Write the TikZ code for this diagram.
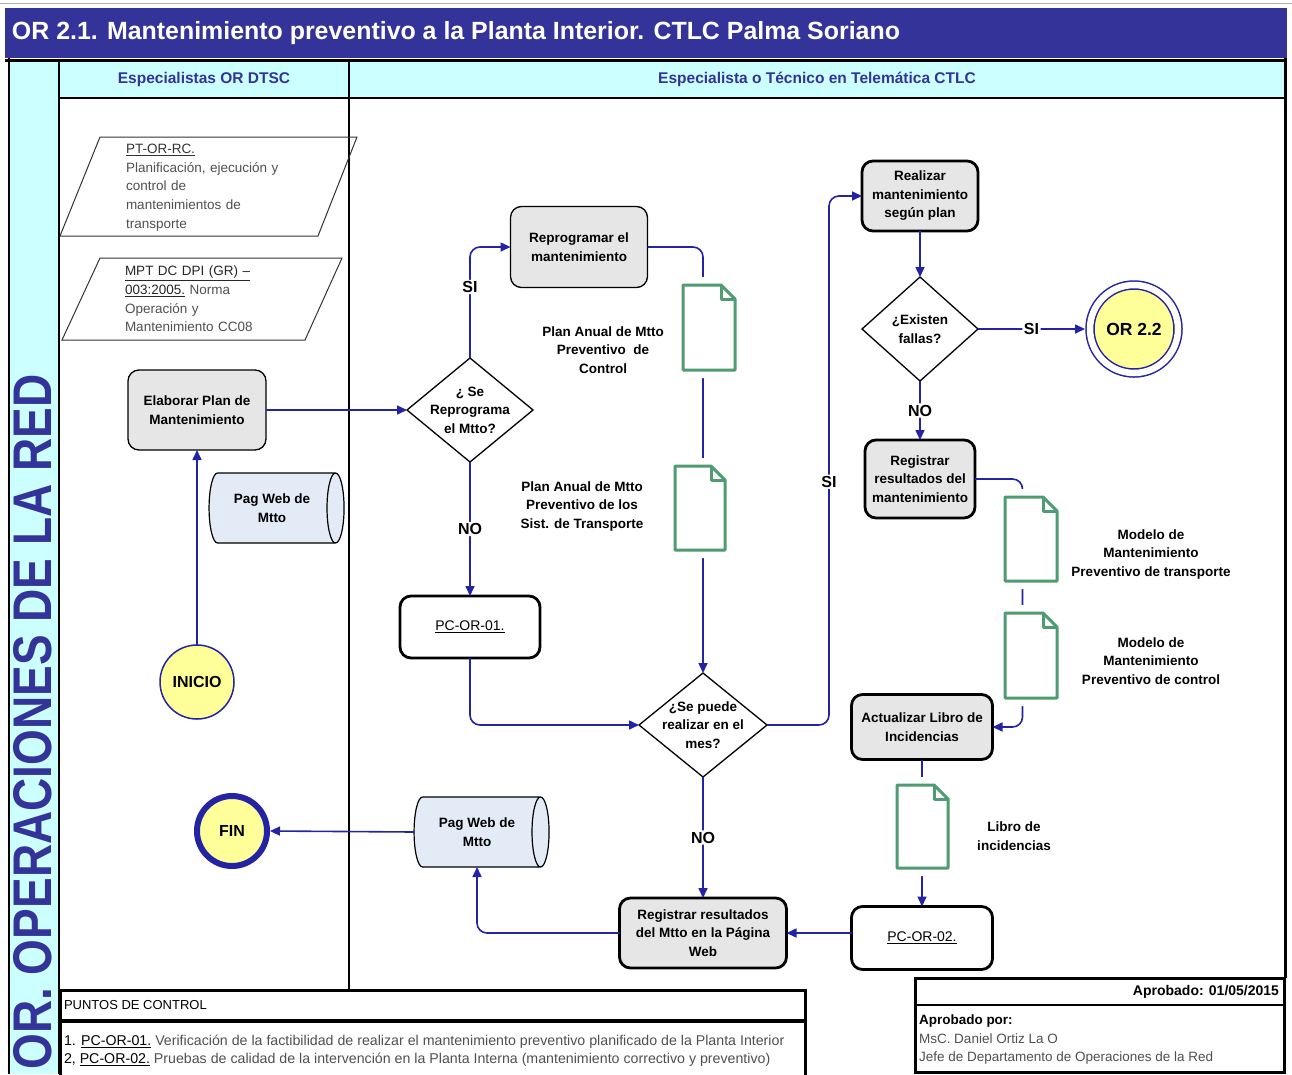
\documentclass[tikz,border=0pt]{standalone}
\usepackage{fontspec}
\setmainfont{Liberation Sans}
\usepackage{graphicx}
\usetikzlibrary{shapes.geometric,arrows.meta,calc}

\definecolor{band}{HTML}{333399}
\definecolor{lane}{HTML}{CCFFFF}
\definecolor{flow}{HTML}{2323A3}
\definecolor{boxgray}{HTML}{E6E6E6}
\definecolor{webfill}{HTML}{E3EBF6}
\definecolor{startfill}{HTML}{FFFF99}
\definecolor{docgreen}{HTML}{4F9B72}
\definecolor{graytext}{HTML}{505050}

\newcommand\fsz[2]{\fontsize{#1}{#2}\selectfont}

\tikzset{
  pics/docsheet/.style args={#1/#2}{code={
    \draw[white, line width=16pt, line join=round]
      (0,0) -- (#1-14,0) -- (#1,14) -- (#1,#2) -- (0,#2) -- cycle;
    \draw[docgreen, line width=3pt, fill=white, line join=round]
      (0,0) -- (#1-14,0) -- (#1,14) -- (#1,#2) -- (0,#2) -- cycle;
    \draw[docgreen, line width=3pt, line join=round]
      (#1-14,0) -- (#1-14,14) -- (#1,14);
  }}
}

\begin{document}
\begin{tikzpicture}[x=1pt,y=-1pt,
  every node/.style={inner sep=0pt, outer sep=0pt},
  boxtxt/.style={font=\bfseries\fsz{13.5}{18.5}, align=center},
  proc/.style={boxtxt, rectangle, rounded corners=11pt, draw=black, fill=boxgray, line width=1.3pt},
  procb/.style={proc, line width=2.8pt},
  ctrl/.style={procb, fill=white, font=\fsz{14}{18}},
  decision/.style={diamond, draw=black, line width=1.3pt, fill=white},
  store/.style={cylinder, shape aspect=0.6, draw=black, line width=1.2pt, fill=webfill, boxtxt,
                minimum width=70pt, minimum height=135pt},
  terminal/.style={circle, draw=flow, fill=startfill, font=\bfseries\fsz{16}{18}},
  flowline/.style={draw=flow, line width=1.6pt, rounded corners=10pt, -{Triangle[length=10pt,width=9pt]}},
  lab/.style={fill=white, font=\bfseries\fsz{16}{18}, inner sep=1.5pt},
  paratxt/.style={align=left, text width=185pt, font=\fsz{13.5}{18.7}, text=graytext},
]
% page
\fill[white] (0,0) rectangle (1292,1074);
\useasboundingbox (0,0) rectangle (1292,1074);
\draw[gray!60, line width=1pt] (0,3) -- (1292,3);

% title band
\fill[band] (5,8) rectangle (1287,58);
\node[anchor=west, text=white] (title) at (12,33)
  {\resizebox{888pt}{!}{\bfseries OR 2.1. Mantenimiento preventivo a la Planta Interior. CTLC Palma Soriano}};

% frame, lane strip and header row
\fill[lane] (10,61) rectangle (58,1074);
\fill[lane] (60,62) rectangle (1284,97);
\draw[line width=3pt] (5,60) -- (1287,60);
\draw[line width=2.5pt] (9,58) -- (9,1074);
\draw[line width=2.5pt] (59,61) -- (59,1074);
\draw[line width=2.5pt] (60,98) -- (1284,98);
\draw[line width=2.5pt] (349,61) -- (349,990);
\draw[line width=3pt] (1285,58) -- (1285,978);

\node[rotate=90, text=band] (lanename) at (33,722)
  {\resizebox{695pt}{38pt}{\bfseries OR. OPERACIONES DE LA RED}};
\node[text=band, font=\bfseries\fsz{15.5}{18}] (hdrA) at (204,79) {Especialistas OR DTSC};
\node[text=band, font=\bfseries\fsz{15.5}{18}] (hdrB) at (817,79) {Especialista o Técnico en Telemática CTLC};

% reference documents (parallelograms)
\draw[line width=1pt, draw=black!80] (100,137) -- (357,137) -- (318,236) -- (60,236) -- cycle;
\node[paratxt, anchor=north west] (ptor) at (126,144)
  {\textcolor{black!80}{\underline{PT-OR-RC.}}\\Planificación, ejecución y\\control de\\mantenimientos de\\transporte};
\draw[line width=1pt, draw=black!80] (100,258) -- (342,258) -- (305,340) -- (62,340) -- cycle;
\node[paratxt, anchor=north west] (mpt) at (125,266)
  {\textcolor{black!85}{\underline{MPT DC DPI (GR) –}}\\\textcolor{black!85}{\underline{003:2005.}} Norma\\Operación y\\Mantenimiento CC08};

% process nodes
\node[proc, minimum width=138pt, minimum height=80pt] (elab) at (197,410) {Elaborar Plan de\\Mantenimiento};
\node[proc, minimum width=137pt, minimum height=81pt] (reprog) at (579,247) {Reprogramar el\\mantenimiento};
\node[procb, minimum width=116pt, minimum height=70pt] (realizar) at (920,196) {Realizar\\mantenimiento\\según plan};
\node[procb, minimum width=110pt, minimum height=78pt] (regres) at (920,479) {Registrar\\resultados del\\mantenimiento};
\node[procb, minimum width=141pt, minimum height=65pt] (act) at (922,727) {Actualizar Libro de\\Incidencias};
\node[procb, minimum width=167pt, minimum height=70pt] (regweb) at (703,933) {Registrar resultados\\del Mtto en la Página\\Web};
\node[ctrl, minimum width=140pt, minimum height=62pt] (pc1) at (470,627) {\underline{PC-OR-01.}};
\node[ctrl, minimum width=141pt, minimum height=63pt] (pc2) at (922,938) {\underline{PC-OR-02.}};

% decisions
\node[decision, minimum width=126pt, minimum height=104pt] (q1) at (470,410) {};
\node[boxtxt] (q1t) at (q1) {¿ Se\\Reprograma\\el Mtto?};
\node[decision, minimum width=128pt, minimum height=104pt] (q2) at (703,725) {};
\node[boxtxt] (q2t) at (q2) {¿Se puede\\realizar en el\\mes?};
\node[decision, minimum width=116pt, minimum height=104pt] (q3) at (920,329) {};
\node[boxtxt] (q3t) at (q3) {¿Existen\\fallas?};

% data stores
\node[store] (web1) at (272,508) {Pag Web de\\Mtto};
\node[store] (web2) at (477,832) {Pag Web de\\Mtto};

% terminals
\node[terminal, minimum size=74pt, line width=1.5pt] (inicio) at (197,682) {INICIO};
\node[terminal, minimum size=70pt, line width=6pt, outer sep=3pt] (fin) at (232,831) {FIN};
\node[circle, draw=flow, line width=1.5pt, double=white, double distance=6.5pt, fill=startfill,
      minimum size=88pt, outer sep=5pt, font=\bfseries\fsz{17.5}{20}] (or22) at (1134,329) {OR 2.2};

% flow
\draw[flowline] (inicio.north) -- (elab.south);
\draw[flowline] (elab.east) -- (q1.west);
\draw[flowline] (q1.north) |- node[lab, pos=0.32] {SI} (reprog.west);
\draw[flowline] (q1.south) -- node[lab] {NO} (pc1.north);
\draw[flowline] (reprog.east) -| (q2.north);
\draw[flowline] (pc1.south) |- (q2.west);
\draw[flowline] (q2.east) -| node[lab, pos=0.73] {SI} ($(realizar.west)+(-33,0)$) -- (realizar.west);
\draw[flowline] (q2.south) -- node[lab] {NO} (regweb.north);
\draw[flowline] (realizar.south) -- (q3.north);
\draw[flowline] (q3.east) -- node[lab] {SI} (or22.west);
\draw[flowline] (q3.south) -- node[lab] {NO} (regres.north);
\draw[flowline] (regres.east) -| ($(act.east)+(30,0)$) -- (act.east);
\draw[flowline] (act.south) -- (pc2.north);
\draw[flowline] (pc2.west |- regweb.east) -- (regweb.east);
\draw[flowline] (regweb.west) -| (web2.south);
\draw[flowline] (web2.west) -- (fin.east);

% documents along the flow
\pic at (683,285) {docsheet=52/85};
\pic at (675,466) {docsheet=50/84};
\pic at (1005,497) {docsheet=52/84};
\pic at (1005,613) {docsheet=52/85};
\pic at (897,785) {docsheet=51/83};

\node[boxtxt] (doc1) at (603,350) {Plan Anual de Mtto\\Preventivo~ de\\Control};
\node[boxtxt] (doc2) at (582,506) {Plan Anual de Mtto\\Preventivo de los\\Sist. de Transporte};
\node[boxtxt] (doc3) at (1151,554) {Modelo de\\Mantenimiento\\Preventivo de transporte};
\node[boxtxt] (doc4) at (1151,661) {Modelo de\\Mantenimiento\\Preventivo de control};
\node[boxtxt] (doc5) at (1014,836) {Libro de\\incidencias};

% control points
\draw[line width=3pt] (60,990) rectangle (805,1076);
\draw[line width=3.5pt] (60,1021) -- (805,1021);
\node[anchor=west, font=\fsz{13}{15}] (pchead) at (64,1005) {PUNTOS DE CONTROL};
\node[anchor=north west, align=left, font=\fsz{14.2}{18}, text=graytext] (pclist) at (64,1035)
  {\textcolor{black}{1. \underline{PC-OR-01.}} Verificación de la factibilidad de realizar el mantenimiento preventivo planificado de la Planta Interior\\
   \textcolor{black}{2, \underline{PC-OR-02.}} Pruebas de calidad de la intervención en la Planta Interna (mantenimiento correctivo y preventivo)};

% approval
\draw[line width=3pt] (915,978) rectangle (1284,1072);
\draw[line width=2pt] (915,1005) -- (1284,1005);
\node[anchor=east, font=\bfseries\fsz{14}{16}] (aprdate) at (1279,992) {Aprobado: 01/05/2015};
\node[anchor=north west, align=left, font=\fsz{13.5}{18.5}] (aprby) at (919,1015)
  {\textbf{Aprobado por:}\\\textcolor{graytext}{MsC. Daniel Ortiz La O}\\\textcolor{graytext}{Jefe de Departamento de Operaciones de la Red}};
\end{tikzpicture}
\end{document}
